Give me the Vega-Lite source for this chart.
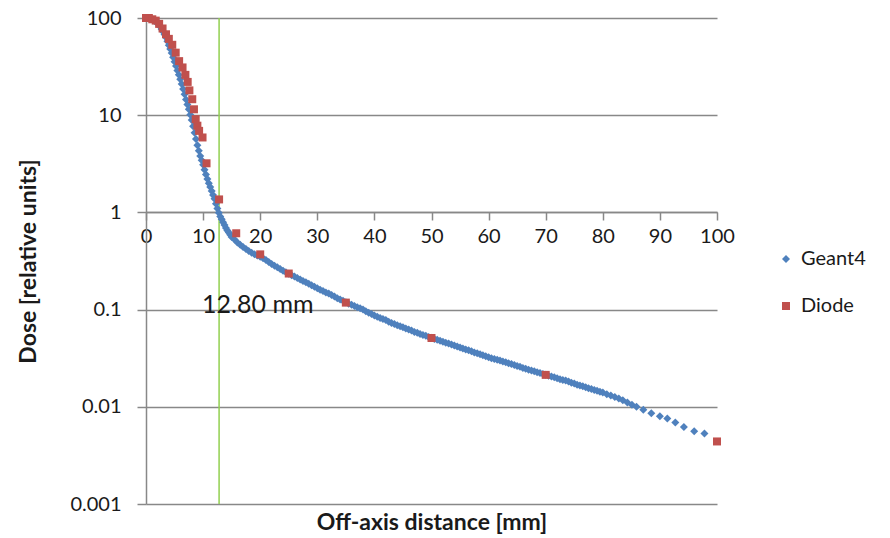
{
  "$schema": "https://vega.github.io/schema/vega-lite/v6.json",
  "width": 571,
  "height": 486,
  "autosize": {"type": "none"},
  "padding": {"left": 146, "top": 18, "right": 173, "bottom": 34},
  "background": "white",
  "config": {
    "view": {"stroke": null},
    "font": "Lato",
    "axis": {
      "labelFont": "Lato",
      "titleFont": "Lato",
      "labelFontSize": 20,
      "titleFontSize": 23,
      "labelColor": "#1a1a1a",
      "titleColor": "#1a1a1a",
      "titleFontWeight": "bold",
      "domainColor": "#888888",
      "domainWidth": 1.5,
      "tickColor": "#888888",
      "tickWidth": 1.5,
      "gridColor": "#888888",
      "gridWidth": 1.5,
      "gridOpacity": 1
    },
    "legend": {"labelFont": "Lato", "labelFontSize": 20, "labelColor": "#1a1a1a"}
  },
  "datasets": {
    "profiles": [
      {"series": "Geant4", "mm": 0, "dose": 100},
      {"series": "Geant4", "mm": 0.25, "dose": 100},
      {"series": "Geant4", "mm": 0.5, "dose": 99.8},
      {"series": "Geant4", "mm": 0.75, "dose": 98.9},
      {"series": "Geant4", "mm": 1, "dose": 97.7},
      {"series": "Geant4", "mm": 1.25, "dose": 95.6},
      {"series": "Geant4", "mm": 1.5, "dose": 93.3},
      {"series": "Geant4", "mm": 1.75, "dose": 91.4},
      {"series": "Geant4", "mm": 2, "dose": 89.1},
      {"series": "Geant4", "mm": 2.25, "dose": 85.2},
      {"series": "Geant4", "mm": 2.5, "dose": 81.3},
      {"series": "Geant4", "mm": 2.75, "dose": 76.7},
      {"series": "Geant4", "mm": 3, "dose": 72.4},
      {"series": "Geant4", "mm": 3.25, "dose": 67.6},
      {"series": "Geant4", "mm": 3.5, "dose": 63.1},
      {"series": "Geant4", "mm": 3.75, "dose": 57.5},
      {"series": "Geant4", "mm": 4, "dose": 52.5},
      {"series": "Geant4", "mm": 4.25, "dose": 47.9},
      {"series": "Geant4", "mm": 4.5, "dose": 43.7},
      {"series": "Geant4", "mm": 4.75, "dose": 39.4},
      {"series": "Geant4", "mm": 5, "dose": 35.5},
      {"series": "Geant4", "mm": 5.25, "dose": 32.0},
      {"series": "Geant4", "mm": 5.5, "dose": 28.8},
      {"series": "Geant4", "mm": 5.75, "dose": 26.0},
      {"series": "Geant4", "mm": 6, "dose": 23.4},
      {"series": "Geant4", "mm": 6.25, "dose": 20.9},
      {"series": "Geant4", "mm": 6.5, "dose": 18.6},
      {"series": "Geant4", "mm": 6.75, "dose": 16.4},
      {"series": "Geant4", "mm": 7, "dose": 14.5},
      {"series": "Geant4", "mm": 7.25, "dose": 12.9},
      {"series": "Geant4", "mm": 7.5, "dose": 11.5},
      {"series": "Geant4", "mm": 7.75, "dose": 10.1},
      {"series": "Geant4", "mm": 8, "dose": 8.91},
      {"series": "Geant4", "mm": 8.25, "dose": 7.68},
      {"series": "Geant4", "mm": 8.5, "dose": 6.61},
      {"series": "Geant4", "mm": 8.75, "dose": 5.69},
      {"series": "Geant4", "mm": 9, "dose": 4.9},
      {"series": "Geant4", "mm": 9.25, "dose": 4.32},
      {"series": "Geant4", "mm": 9.5, "dose": 3.8},
      {"series": "Geant4", "mm": 9.75, "dose": 3.43},
      {"series": "Geant4", "mm": 10, "dose": 3.09},
      {"series": "Geant4", "mm": 10.25, "dose": 2.75},
      {"series": "Geant4", "mm": 10.5, "dose": 2.45},
      {"series": "Geant4", "mm": 10.75, "dose": 2.21},
      {"series": "Geant4", "mm": 11, "dose": 2.0},
      {"series": "Geant4", "mm": 11.25, "dose": 1.82},
      {"series": "Geant4", "mm": 11.5, "dose": 1.66},
      {"series": "Geant4", "mm": 11.75, "dose": 1.51},
      {"series": "Geant4", "mm": 12, "dose": 1.38},
      {"series": "Geant4", "mm": 12.25, "dose": 1.23},
      {"series": "Geant4", "mm": 12.5, "dose": 1.1},
      {"series": "Geant4", "mm": 12.75, "dose": 0.99},
      {"series": "Geant4", "mm": 13, "dose": 0.91},
      {"series": "Geant4", "mm": 13.25, "dose": 0.85},
      {"series": "Geant4", "mm": 13.5, "dose": 0.79},
      {"series": "Geant4", "mm": 13.75, "dose": 0.74},
      {"series": "Geant4", "mm": 14, "dose": 0.69},
      {"series": "Geant4", "mm": 14.25, "dose": 0.65},
      {"series": "Geant4", "mm": 14.5, "dose": 0.62},
      {"series": "Geant4", "mm": 14.75, "dose": 0.59},
      {"series": "Geant4", "mm": 15, "dose": 0.56},
      {"series": "Geant4", "mm": 15.5, "dose": 0.525},
      {"series": "Geant4", "mm": 16, "dose": 0.49},
      {"series": "Geant4", "mm": 16.5, "dose": 0.465},
      {"series": "Geant4", "mm": 17, "dose": 0.44},
      {"series": "Geant4", "mm": 17.5, "dose": 0.42},
      {"series": "Geant4", "mm": 18, "dose": 0.4},
      {"series": "Geant4", "mm": 18.5, "dose": 0.385},
      {"series": "Geant4", "mm": 19, "dose": 0.37},
      {"series": "Geant4", "mm": 19.5, "dose": 0.36},
      {"series": "Geant4", "mm": 20, "dose": 0.35},
      {"series": "Geant4", "mm": 20.5, "dose": 0.337},
      {"series": "Geant4", "mm": 21, "dose": 0.324},
      {"series": "Geant4", "mm": 21.5, "dose": 0.309},
      {"series": "Geant4", "mm": 22, "dose": 0.295},
      {"series": "Geant4", "mm": 22.5, "dose": 0.283},
      {"series": "Geant4", "mm": 23, "dose": 0.272},
      {"series": "Geant4", "mm": 23.5, "dose": 0.261},
      {"series": "Geant4", "mm": 24, "dose": 0.251},
      {"series": "Geant4", "mm": 24.5, "dose": 0.242},
      {"series": "Geant4", "mm": 25, "dose": 0.234},
      {"series": "Geant4", "mm": 25.5, "dose": 0.226},
      {"series": "Geant4", "mm": 26, "dose": 0.219},
      {"series": "Geant4", "mm": 26.5, "dose": 0.211},
      {"series": "Geant4", "mm": 27, "dose": 0.204},
      {"series": "Geant4", "mm": 27.5, "dose": 0.197},
      {"series": "Geant4", "mm": 28, "dose": 0.191},
      {"series": "Geant4", "mm": 28.5, "dose": 0.184},
      {"series": "Geant4", "mm": 29, "dose": 0.178},
      {"series": "Geant4", "mm": 29.5, "dose": 0.172},
      {"series": "Geant4", "mm": 30, "dose": 0.166},
      {"series": "Geant4", "mm": 30.5, "dose": 0.16},
      {"series": "Geant4", "mm": 31, "dose": 0.155},
      {"series": "Geant4", "mm": 31.5, "dose": 0.15},
      {"series": "Geant4", "mm": 32, "dose": 0.146},
      {"series": "Geant4", "mm": 32.5, "dose": 0.141},
      {"series": "Geant4", "mm": 33, "dose": 0.136},
      {"series": "Geant4", "mm": 33.5, "dose": 0.131},
      {"series": "Geant4", "mm": 34, "dose": 0.127},
      {"series": "Geant4", "mm": 34.5, "dose": 0.123},
      {"series": "Geant4", "mm": 35, "dose": 0.119},
      {"series": "Geant4", "mm": 35.5, "dose": 0.115},
      {"series": "Geant4", "mm": 36, "dose": 0.112},
      {"series": "Geant4", "mm": 36.5, "dose": 0.109},
      {"series": "Geant4", "mm": 37, "dose": 0.106},
      {"series": "Geant4", "mm": 37.5, "dose": 0.103},
      {"series": "Geant4", "mm": 38, "dose": 0.1},
      {"series": "Geant4", "mm": 38.5, "dose": 0.096},
      {"series": "Geant4", "mm": 39, "dose": 0.093},
      {"series": "Geant4", "mm": 39.5, "dose": 0.09},
      {"series": "Geant4", "mm": 40, "dose": 0.087},
      {"series": "Geant4", "mm": 40.5, "dose": 0.0846},
      {"series": "Geant4", "mm": 41, "dose": 0.082},
      {"series": "Geant4", "mm": 41.5, "dose": 0.0802},
      {"series": "Geant4", "mm": 42, "dose": 0.078},
      {"series": "Geant4", "mm": 42.5, "dose": 0.0752},
      {"series": "Geant4", "mm": 43, "dose": 0.073},
      {"series": "Geant4", "mm": 43.5, "dose": 0.0712},
      {"series": "Geant4", "mm": 44, "dose": 0.069},
      {"series": "Geant4", "mm": 44.5, "dose": 0.0676},
      {"series": "Geant4", "mm": 45, "dose": 0.066},
      {"series": "Geant4", "mm": 45.5, "dose": 0.0638},
      {"series": "Geant4", "mm": 46, "dose": 0.0624},
      {"series": "Geant4", "mm": 46.5, "dose": 0.0608},
      {"series": "Geant4", "mm": 47, "dose": 0.0589},
      {"series": "Geant4", "mm": 47.5, "dose": 0.0577},
      {"series": "Geant4", "mm": 48, "dose": 0.0562},
      {"series": "Geant4", "mm": 48.5, "dose": 0.0548},
      {"series": "Geant4", "mm": 49, "dose": 0.0537},
      {"series": "Geant4", "mm": 49.5, "dose": 0.0523},
      {"series": "Geant4", "mm": 50, "dose": 0.0513},
      {"series": "Geant4", "mm": 50.5, "dose": 0.0499},
      {"series": "Geant4", "mm": 51, "dose": 0.049},
      {"series": "Geant4", "mm": 51.5, "dose": 0.0477},
      {"series": "Geant4", "mm": 52, "dose": 0.0468},
      {"series": "Geant4", "mm": 52.5, "dose": 0.0456},
      {"series": "Geant4", "mm": 53, "dose": 0.0447},
      {"series": "Geant4", "mm": 53.5, "dose": 0.0438},
      {"series": "Geant4", "mm": 54, "dose": 0.0427},
      {"series": "Geant4", "mm": 54.5, "dose": 0.0416},
      {"series": "Geant4", "mm": 55, "dose": 0.0408},
      {"series": "Geant4", "mm": 55.5, "dose": 0.0397},
      {"series": "Geant4", "mm": 56, "dose": 0.0389},
      {"series": "Geant4", "mm": 56.5, "dose": 0.0381},
      {"series": "Geant4", "mm": 57, "dose": 0.0372},
      {"series": "Geant4", "mm": 57.5, "dose": 0.0362},
      {"series": "Geant4", "mm": 58, "dose": 0.0355},
      {"series": "Geant4", "mm": 58.5, "dose": 0.0348},
      {"series": "Geant4", "mm": 59, "dose": 0.0339},
      {"series": "Geant4", "mm": 59.5, "dose": 0.0331},
      {"series": "Geant4", "mm": 60, "dose": 0.0324},
      {"series": "Geant4", "mm": 60.5, "dose": 0.0316},
      {"series": "Geant4", "mm": 61, "dose": 0.0311},
      {"series": "Geant4", "mm": 61.5, "dose": 0.0304},
      {"series": "Geant4", "mm": 62, "dose": 0.0299},
      {"series": "Geant4", "mm": 62.5, "dose": 0.0292},
      {"series": "Geant4", "mm": 63, "dose": 0.0287},
      {"series": "Geant4", "mm": 63.5, "dose": 0.028},
      {"series": "Geant4", "mm": 64, "dose": 0.0275},
      {"series": "Geant4", "mm": 64.5, "dose": 0.0269},
      {"series": "Geant4", "mm": 65, "dose": 0.0263},
      {"series": "Geant4", "mm": 65.5, "dose": 0.0258},
      {"series": "Geant4", "mm": 66, "dose": 0.0251},
      {"series": "Geant4", "mm": 66.5, "dose": 0.0247},
      {"series": "Geant4", "mm": 67, "dose": 0.0241},
      {"series": "Geant4", "mm": 67.5, "dose": 0.0236},
      {"series": "Geant4", "mm": 68, "dose": 0.0232},
      {"series": "Geant4", "mm": 68.5, "dose": 0.0227},
      {"series": "Geant4", "mm": 69, "dose": 0.0223},
      {"series": "Geant4", "mm": 69.5, "dose": 0.0218},
      {"series": "Geant4", "mm": 70, "dose": 0.0214},
      {"series": "Geant4", "mm": 70.5, "dose": 0.0209},
      {"series": "Geant4", "mm": 71, "dose": 0.0205},
      {"series": "Geant4", "mm": 71.5, "dose": 0.0201},
      {"series": "Geant4", "mm": 72, "dose": 0.0197},
      {"series": "Geant4", "mm": 72.5, "dose": 0.0192},
      {"series": "Geant4", "mm": 73, "dose": 0.0189},
      {"series": "Geant4", "mm": 73.5, "dose": 0.0186},
      {"series": "Geant4", "mm": 74, "dose": 0.0182},
      {"series": "Geant4", "mm": 74.5, "dose": 0.0177},
      {"series": "Geant4", "mm": 75, "dose": 0.0174},
      {"series": "Geant4", "mm": 75.5, "dose": 0.0169},
      {"series": "Geant4", "mm": 76, "dose": 0.0166},
      {"series": "Geant4", "mm": 76.5, "dose": 0.0163},
      {"series": "Geant4", "mm": 77, "dose": 0.0159},
      {"series": "Geant4", "mm": 77.5, "dose": 0.0155},
      {"series": "Geant4", "mm": 78, "dose": 0.0152},
      {"series": "Geant4", "mm": 78.5, "dose": 0.0149},
      {"series": "Geant4", "mm": 79, "dose": 0.0146},
      {"series": "Geant4", "mm": 79.5, "dose": 0.0143},
      {"series": "Geant4", "mm": 80, "dose": 0.0140},
      {"series": "Geant4", "mm": 80.7, "dose": 0.0135},
      {"series": "Geant4", "mm": 81.4, "dose": 0.0131},
      {"series": "Geant4", "mm": 82.1, "dose": 0.0126},
      {"series": "Geant4", "mm": 82.8, "dose": 0.0122},
      {"series": "Geant4", "mm": 83.5, "dose": 0.0117},
      {"series": "Geant4", "mm": 84.3, "dose": 0.0111},
      {"series": "Geant4", "mm": 85.1, "dose": 0.0105},
      {"series": "Geant4", "mm": 85.9, "dose": 0.0100},
      {"series": "Geant4", "mm": 87.1, "dose": 0.0093},
      {"series": "Geant4", "mm": 88.5, "dose": 0.0086},
      {"series": "Geant4", "mm": 90, "dose": 0.0080},
      {"series": "Geant4", "mm": 91.3, "dose": 0.0076},
      {"series": "Geant4", "mm": 92.7, "dose": 0.0069},
      {"series": "Geant4", "mm": 94.2, "dose": 0.0062},
      {"series": "Geant4", "mm": 96, "dose": 0.0056},
      {"series": "Geant4", "mm": 97.8, "dose": 0.0053},
      {"series": "Diode", "mm": 0, "dose": 100},
      {"series": "Diode", "mm": 0.5, "dose": 100},
      {"series": "Diode", "mm": 1.1, "dose": 97},
      {"series": "Diode", "mm": 1.7, "dose": 94},
      {"series": "Diode", "mm": 2.3, "dose": 87},
      {"series": "Diode", "mm": 2.9, "dose": 78},
      {"series": "Diode", "mm": 3.5, "dose": 68},
      {"series": "Diode", "mm": 4.0, "dose": 61},
      {"series": "Diode", "mm": 4.6, "dose": 53},
      {"series": "Diode", "mm": 5.2, "dose": 44},
      {"series": "Diode", "mm": 5.8, "dose": 36},
      {"series": "Diode", "mm": 6.4, "dose": 31},
      {"series": "Diode", "mm": 6.9, "dose": 26},
      {"series": "Diode", "mm": 7.3, "dose": 22},
      {"series": "Diode", "mm": 7.6, "dose": 18},
      {"series": "Diode", "mm": 8.1, "dose": 14.6},
      {"series": "Diode", "mm": 8.4, "dose": 11.5},
      {"series": "Diode", "mm": 8.7, "dose": 9.1},
      {"series": "Diode", "mm": 9.0, "dose": 7.8},
      {"series": "Diode", "mm": 9.3, "dose": 6.9},
      {"series": "Diode", "mm": 9.9, "dose": 5.9},
      {"series": "Diode", "mm": 10.6, "dose": 3.2},
      {"series": "Diode", "mm": 12.8, "dose": 1.36},
      {"series": "Diode", "mm": 15.8, "dose": 0.61},
      {"series": "Diode", "mm": 20, "dose": 0.37},
      {"series": "Diode", "mm": 25, "dose": 0.235},
      {"series": "Diode", "mm": 35, "dose": 0.118},
      {"series": "Diode", "mm": 50, "dose": 0.051},
      {"series": "Diode", "mm": 70, "dose": 0.0213},
      {"series": "Diode", "mm": 100, "dose": 0.0044}
    ],
    "marker": [
      {"mm": 12.8, "dose": 0.1, "label": "12.80 mm", "bottom": 0.001, "top": 100}
    ]
  },
  "encoding": {
    "x": {
      "field": "mm",
      "type": "quantitative",
      "scale": {"domain": [0, 100], "nice": false},
      "axis": {
        "title": "Off-axis distance [mm]",
        "orient": "bottom",
        "offset": -292,
        "values": [0, 10, 20, 30, 40, 50, 60, 70, 80, 90, 100],
        "grid": false,
        "tickSize": 8,
        "labelPadding": 6,
        "labelFlush": false,
        "labelOverlap": false,
        "titleY": 310,
        "titleBaseline": "middle"
      }
    },
    "y": {
      "field": "dose",
      "type": "quantitative",
      "scale": {"type": "log", "domain": [0.001, 100], "nice": false},
      "axis": {
        "title": "Dose [relative units]",
        "orient": "left",
        "values": [0.001, 0.01, 0.1, 1, 10, 100],
        "labelExpr": "datum.value >= 1 ? format(datum.value, 'd') : format(datum.value, '~g')",
        "grid": true,
        "tickSize": 9,
        "labelPadding": 16,
        "labelOverlap": false,
        "titleX": -118,
        "titleBaseline": "middle"
      }
    }
  },
  "layer": [
    {
      "data": {"name": "marker"},
      "mark": {"type": "rule", "color": "#92d050", "strokeWidth": 1.5},
      "encoding": {
        "y": {"field": "bottom", "type": "quantitative"},
        "y2": {"field": "top"}
      }
    },
    {
      "data": {"name": "profiles"},
      "mark": {"type": "point", "filled": true, "opacity": 1, "strokeWidth": 0},
      "encoding": {
        "color": {
          "field": "series",
          "type": "nominal",
          "scale": {"domain": ["Geant4", "Diode"], "range": ["#4f81bd", "#c0504d"]},
          "legend": {
            "title": null,
            "orient": "none",
            "legendX": 630,
            "legendY": 231,
            "rowPadding": 27,
            "symbolSize": 50,
            "labelOffset": 5
          }
        },
        "shape": {
          "field": "series",
          "type": "nominal",
          "scale": {"domain": ["Geant4", "Diode"], "range": ["diamond", "square"]},
          "legend": {
            "title": null,
            "orient": "none",
            "legendX": 630,
            "legendY": 231,
            "rowPadding": 27,
            "symbolSize": 50,
            "labelOffset": 5
          }
        },
        "size": {
          "field": "series",
          "type": "nominal",
          "scale": {"domain": ["Geant4", "Diode"], "range": [64, 64]},
          "legend": null
        }
      }
    },
    {
      "data": {"name": "marker"},
      "mark": {"type": "text", "align": "left", "baseline": "alphabetic", "dx": -17, "dy": 3, "fontSize": 25, "font": "Lato", "color": "#1a1a1a"},
      "encoding": {
        "text": {"field": "label"}
      }
    }
  ]
}
